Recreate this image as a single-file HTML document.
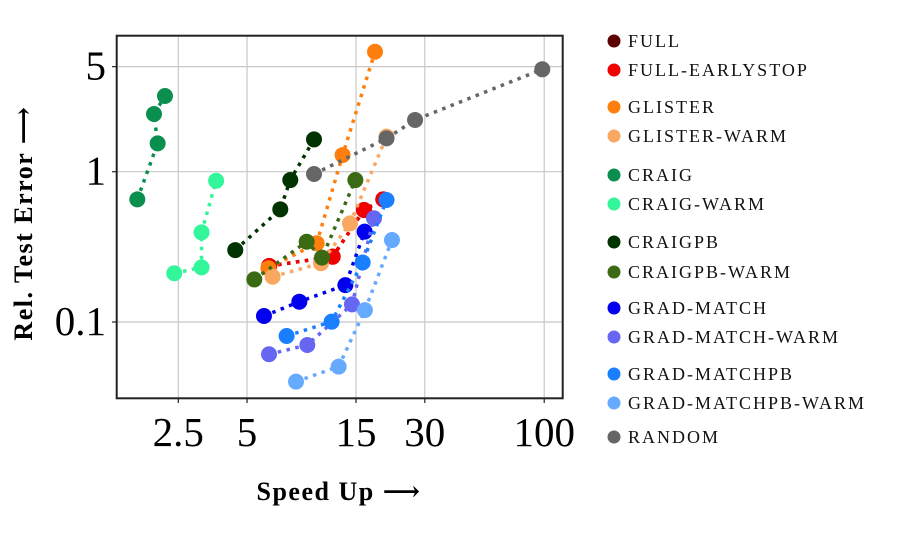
<!DOCTYPE html>
<html><head><meta charset="utf-8">
<style>
html,body{margin:0;padding:0;background:#fff;}
svg{display:block;font-family:"Liberation Serif","DejaVu Serif",serif;}
</style></head>
<body>
<svg id="chart" width="899" height="539" viewBox="0 0 899 539" xmlns="http://www.w3.org/2000/svg">
<g id="grid"></g>
<g id="series"></g>
<rect x="116.7" y="35.7" width="446" height="362.6" fill="none" stroke="#222" stroke-width="2"/>
<g id="ticks"></g>
<text x="339" y="500" text-anchor="middle" font-weight="bold" font-size="26" letter-spacing="1.5">Speed Up ⟶</text>
<text transform="translate(32,223) rotate(-90)" text-anchor="middle" font-weight="bold" font-size="26" letter-spacing="1.5">Rel. Test Error ⟶</text>
<g id="legend"></g>
</svg>
<script>
const xTicks = [2.5, 5, 15, 30, 100];
const xTickLabels = ["2.5", "5", "15", "30", "100"];
const yTicks = [5, 1, 0.1];
const yTickLabels = ["5", "1", "0.1"];
const seriesNames = ["FULL","FULL-EARLYSTOP","GLISTER","GLISTER-WARM","CRAIG","CRAIG-WARM","CRAIGPB","CRAIGPB-WARM","GRAD-MATCH","GRAD-MATCH-WARM","GRAD-MATCHPB","GRAD-MATCHPB-WARM","RANDOM"];
const seriesColors = ["#5c0000","#f00000","#ff7f0e","#f9a861","#0a8f4f","#33f59a","#003300","#3a6b14","#0000ee","#6666f2","#1a7fff","#66aaff","#666666"];
const fullX = [6.25, 11.85, 16.25, 19.75];
const fullY = [0.236, 0.272, 0.556, 0.655];
const fullEarlyX = [6.25, 11.85, 16.25, 19.75];
const fullEarlyY = [0.236, 0.272, 0.556, 0.655];
const glisterX = [6.2, 10.09, 13.1, 18.16];
const glisterY = [0.228, 0.334, 1.29, 6.28];
const glisterWarmX = [6.47, 10.53, 14.11, 20.4];
const glisterWarmY = [0.20, 0.246, 0.453, 1.71];
const craigX = [1.654, 2.03, 1.957, 2.186];
const craigY = [0.655, 1.543, 2.42, 3.19];
const craigWarmX = [2.40, 3.16, 3.16, 3.66];
const craigWarmY = [0.211, 0.231, 0.395, 0.871];
const craigpbX = [4.44, 6.99, 7.73, 9.82];
const craigpbY = [0.301, 0.562, 0.88, 1.64];
const craigpbWarmX = [5.38, 9.12, 10.64, 14.9];
const craigpbWarmY = [0.192, 0.342, 0.268, 0.88];
const gmX = [5.93, 8.47, 13.47, 16.36];
const gmY = [0.1096, 0.1365, 0.176, 0.399];
const gmWarmX = [6.24, 9.18, 14.4, 17.98];
const gmWarmY = [0.061, 0.0703, 0.131, 0.49];
const gmpbX = [7.45, 11.73, 16.03, 20.4];
const gmpbY = [0.0807, 0.1005, 0.249, 0.648];
const gmpbWarmX = [8.19, 12.59, 16.4, 21.55];
const gmpbWarmY = [0.0401, 0.0505, 0.12, 0.351];
const randomX = [9.82, 20.4, 27.2, 98.1];
const randomY = [0.965, 1.667, 2.21, 4.8];

const allX = [fullX,fullEarlyX,glisterX,glisterWarmX,craigX,craigWarmX,craigpbX,craigpbWarmX,gmX,gmWarmX,gmpbX,gmpbWarmX,randomX];
const allY = [fullY,fullEarlyY,glisterY,glisterWarmY,craigY,craigWarmY,craigpbY,craigpbWarmY,gmY,gmWarmY,gmpbY,gmpbWarmY,randomY];

const NS = "http://www.w3.org/2000/svg";
function xS(v){ return 178.3 + (Math.log10(v) - Math.log10(2.5)) * 228.4; }
function yS(v){ return 171.7 - Math.log10(v) * 150.3; }
function mk(tag, attrs, parent){ const e=document.createElementNS(NS,tag); for(const k in attrs) e.setAttribute(k,attrs[k]); parent.appendChild(e); return e; }

const grid=document.getElementById('grid'), ticks=document.getElementById('ticks');
xTicks.forEach((t,i)=>{
  const gl=mk('line',{x1:xS(t),x2:xS(t),y1:35.7,y2:398.3,stroke:'#c8c8c8','stroke-width':1.2},grid);
  
  
  const tk=mk('line',{x1:xS(t),x2:xS(t),y1:398.3,y2:403,stroke:'#222','stroke-width':1.2},ticks);
  
  
  const tl=mk('text',{x:xS(t),y:446,'text-anchor':'middle','font-size':41},ticks);
  tl.textContent=xTickLabels[i];
  
  
});
yTicks.forEach((t,i)=>{
  const gl=mk('line',{x1:116.7,x2:562.7,y1:yS(t),y2:yS(t),stroke:'#c8c8c8','stroke-width':1.2},grid);
  
  
  const tk=mk('line',{x1:112,x2:116.7,y1:yS(t),y2:yS(t),stroke:'#222','stroke-width':1.2},ticks);
  
  
  const tl=mk('text',{x:106,y:yS(t)+13,'text-anchor':'end','font-size':41},ticks);
  tl.textContent=yTickLabels[i];
  
  
});

const series=document.getElementById('series');
seriesNames.forEach((name,s)=>{
  const g=mk('g',{},series);
  
  
  const xs=allX[s], ys=allY[s];
  const pts=xs.map((x,i)=>xS(x)+','+yS(ys[i])).join(' ');
  const pl=mk('polyline',{points:pts,fill:'none',stroke:seriesColors[s],'stroke-width':3.5,'stroke-dasharray':'3.5 5.5'},g);
  
  
  xs.forEach((x,i)=>{
    const c=mk('circle',{cx:xS(x),cy:yS(ys[i]),r:8,fill:seriesColors[s]},g);
    
    
  });
});

const legendY=[41,70,107,136,175,204,242,272,308,337,374,403,437];
const legend=document.getElementById('legend');
seriesNames.forEach((name,s)=>{
  const g=mk('g',{},legend);
  
  
  mk('circle',{cx:614,cy:legendY[s],r:6.5,fill:seriesColors[s]},g);
  const t=mk('text',{x:628,y:legendY[s]+6,'font-size':18,'letter-spacing':2,fill:'#111'},g);
  t.textContent=name;
});
</script>
</body></html>
